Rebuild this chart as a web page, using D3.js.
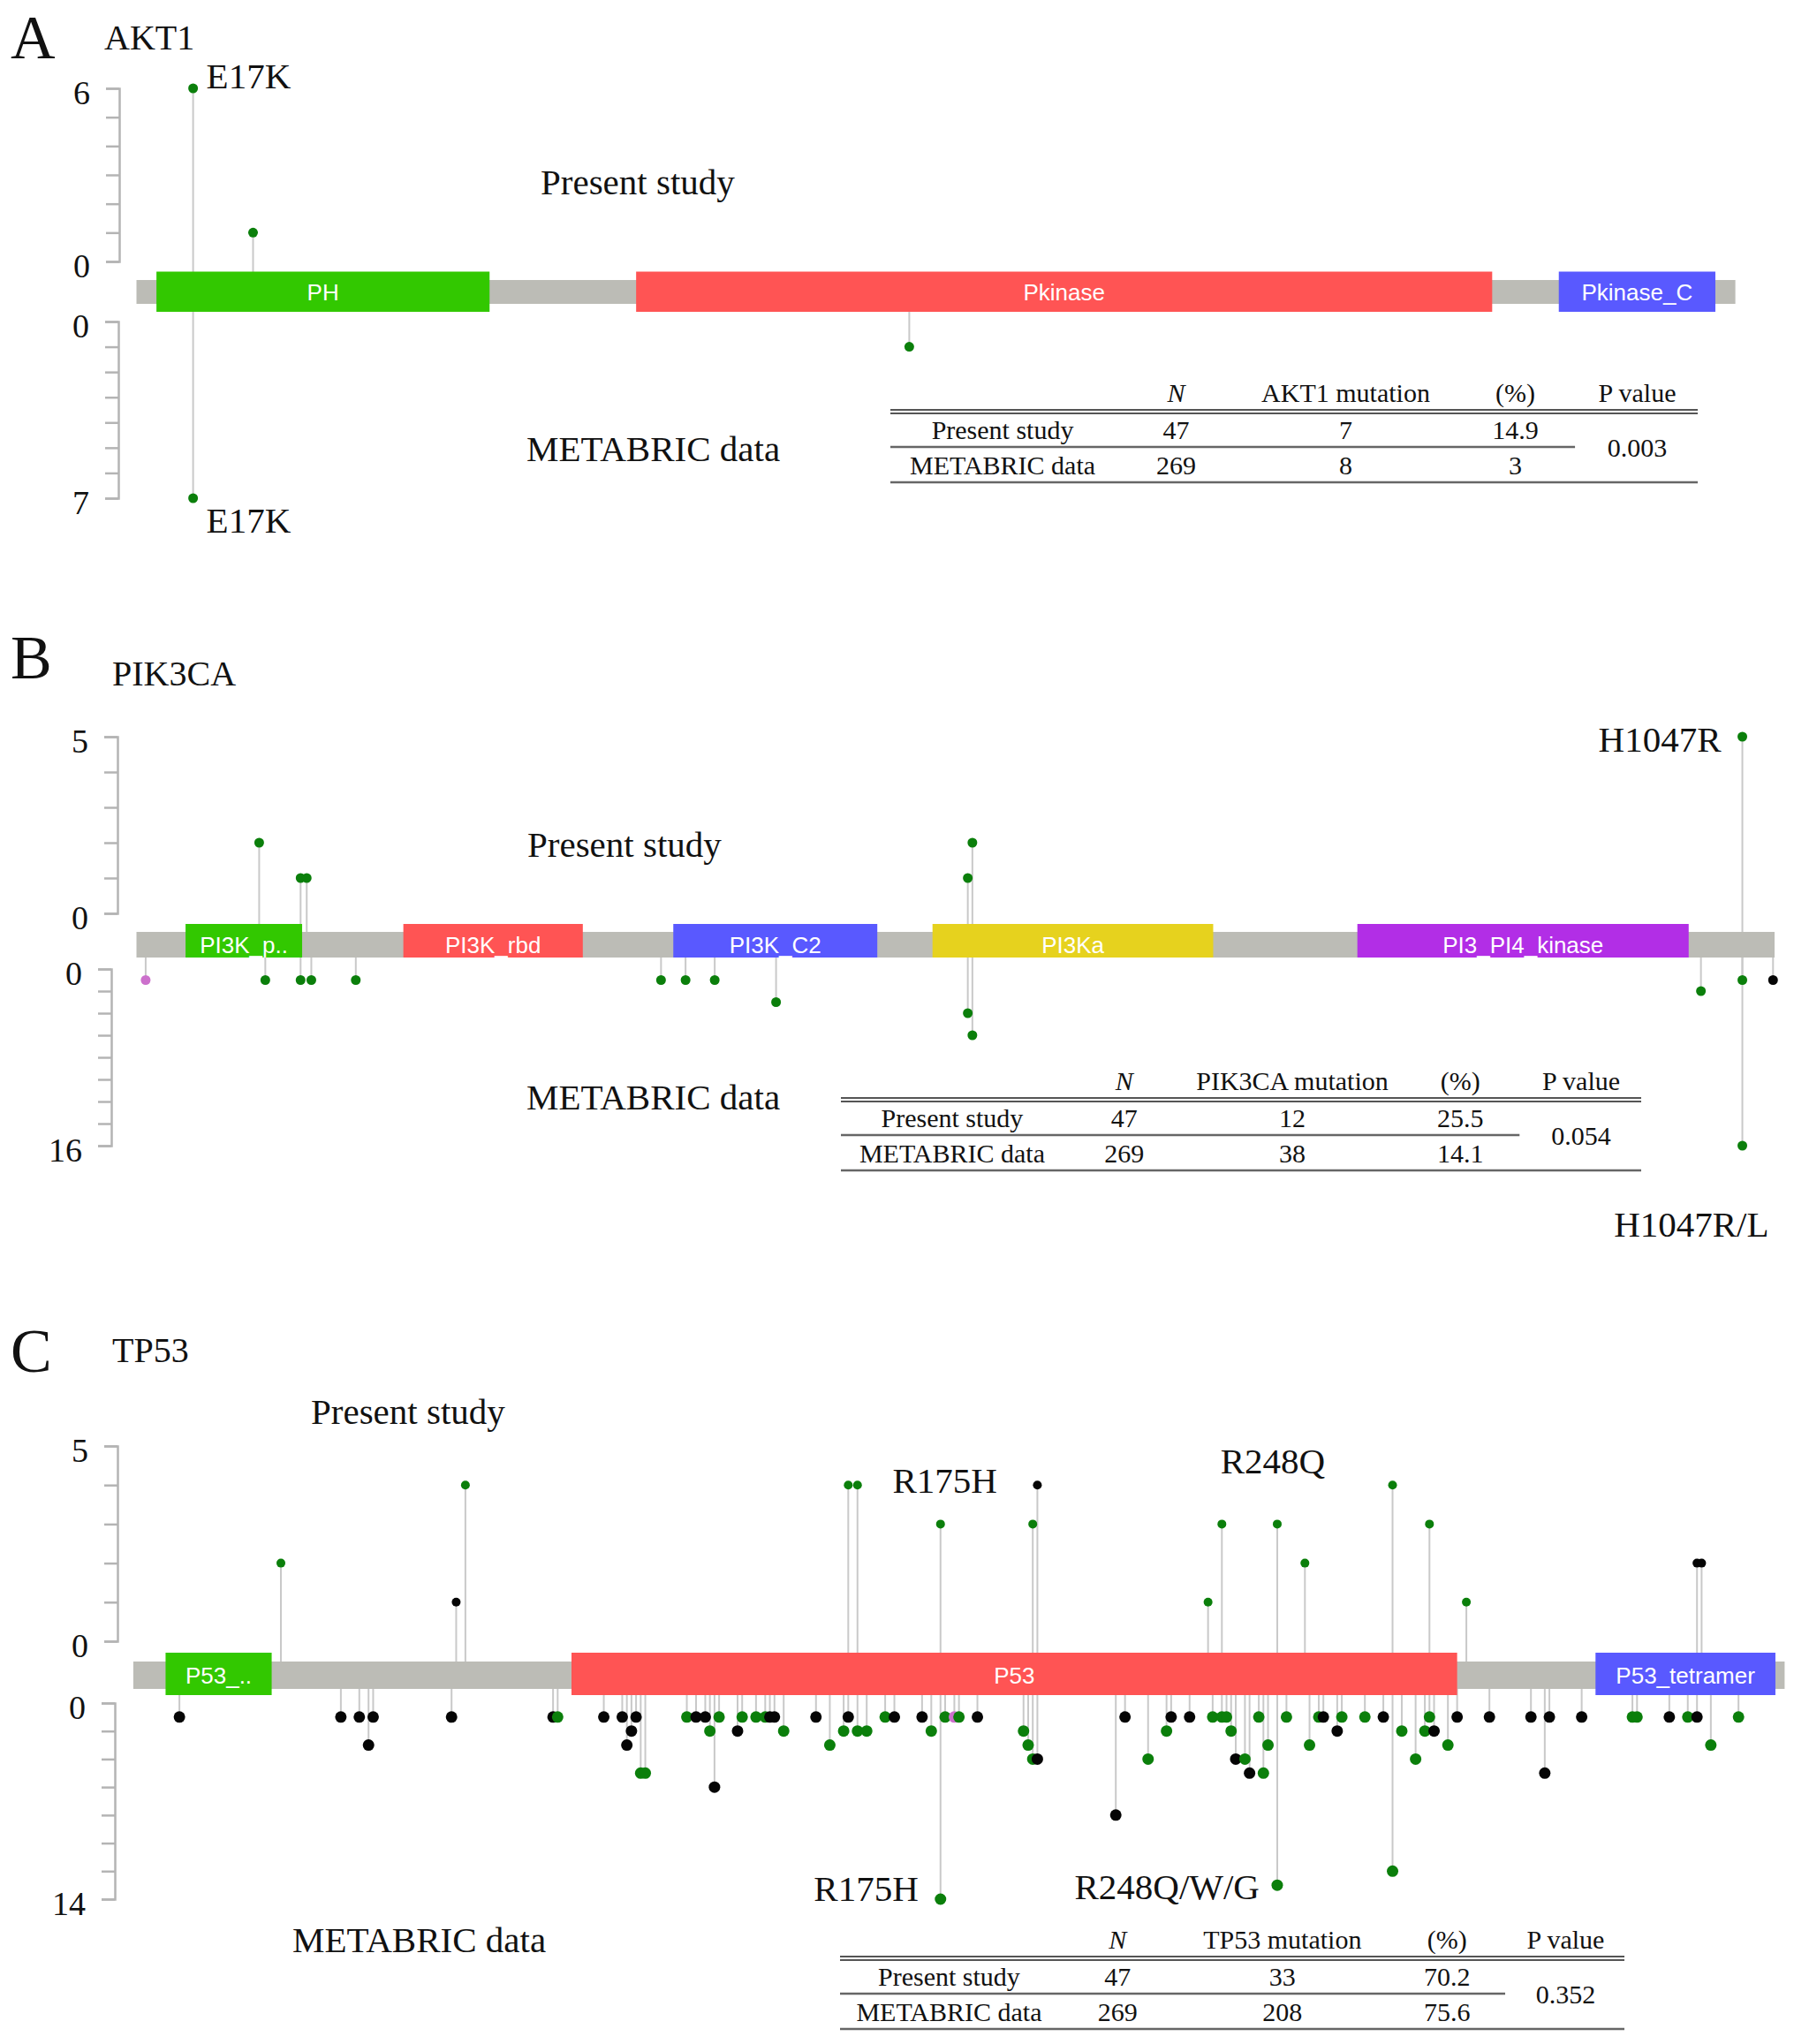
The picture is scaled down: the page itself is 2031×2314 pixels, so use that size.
<!DOCTYPE html>
<html>
<head>
<meta charset="utf-8">
<script src="https://cdnjs.cloudflare.com/ajax/libs/d3/7.8.5/d3.min.js"></script>
<style>
    body { margin: 0; background: #fff; }
    svg text { font-family: "Liberation Serif", "Times New Roman", serif; fill: #111; }
    .dom-label { font-family: "Liberation Sans", Arial, sans-serif; fill: #fff; font-size: 26px; }
    .axis path, .axis line { stroke: #b4b4b4; stroke-width: 2.5; }
    .axis text { font-size: 38px; }
</style>
</head>
<body>
<div id="chart"></div>
<script>
// ---- data -------------------------------------------------------------
// domains: [name shown, start aa, end aa, colour key]
const akt1Domains = [["PH", 6, 106, "green"], ["Pkinase", 150, 407, "red"], ["Pkinase_C", 427, 474, "blue"]];
const pik3caDomains = [["PI3K_p..", 32, 108, "green"], ["PI3K_rbd", 174, 291, "red"], ["PI3K_C2", 350, 483, "blue"],
    ["PI3Ka", 519, 702, "yellow"], ["PI3_PI4_kinase", 796, 1012, "purple"]];
const tp53Domains = [["P53_..", 7, 30, "green"], ["P53", 95, 287, "red"], ["P53_tetramer", 317, 356, "blue"]];

// mutations: [position aa, count, colour key]  (g green, b black, p pink)
const akt1Upper = [[17, 6, "g"], [35, 1, "g"]];
const akt1Lower = [[17, 7, "g"], [232, 1, "g"]];

const pik3caUpper = [[80, 2, "g"], [107, 1, "g"], [111, 1, "g"], [542, 1, "g"], [545, 2, "g"], [1047, 5, "g"]];
const pik3caLower = [[6, 1, "p"], [84, 1, "g"], [107, 1, "g"], [114, 1, "g"], [143, 1, "g"], [342, 1, "g"],
    [358, 1, "g"], [377, 1, "g"], [417, 3, "g"], [542, 4, "g"], [545, 6, "g"], [1020, 2, "g"],
    [1047, 16, "g"], [1047, 1, "g"], [1067, 1, "b"]];

const tp53Upper = [[32, 2, "g"], [70, 1, "b"], [72, 4, "g"], [155, 4, "g"], [157, 4, "g"], [175, 3, "g"],
    [195, 3, "g"], [196, 4, "b"], [233, 1, "g"], [236, 3, "g"], [248, 3, "g"], [254, 2, "g"],
    [273, 4, "g"], [281, 3, "g"], [289, 1, "g"], [339, 2, "b"], [340, 2, "b"]];
const tp53Lower = [[10, 1, "b"], [45, 1, "b"], [49, 1, "b"], [51, 3, "b"], [52, 1, "b"], [69, 1, "b"],
    [91, 1, "b"], [92, 1, "g"], [102, 1, "b"], [106, 1, "b"], [107, 3, "b"], [108, 2, "b"], [109, 1, "b"],
    [110, 5, "g"], [111, 5, "g"], [120, 1, "g"], [122, 1, "b"], [124, 1, "b"], [125, 2, "g"], [126, 6, "b"],
    [127, 1, "g"], [131, 2, "b"], [132, 1, "g"], [135, 1, "g"], [137, 1, "g"], [138, 1, "b"], [139, 1, "b"],
    [141, 2, "g"], [148, 1, "b"], [151, 3, "g"], [154, 2, "g"], [155, 1, "b"], [157, 2, "g"], [159, 2, "g"],
    [163, 1, "g"], [165, 1, "b"], [171, 1, "b"], [173, 2, "g"], [175, 14, "g"], [176, 1, "g"], [178, 1, "p"],
    [179, 1, "g"], [183, 1, "b"], [193, 2, "g"], [194, 3, "g"], [195, 4, "g"], [196, 4, "b"], [213, 8, "b"],
    [215, 1, "b"], [220, 4, "g"], [224, 2, "g"], [225, 1, "b"], [229, 1, "b"], [234, 1, "g"], [236, 1, "g"],
    [237, 1, "g"], [238, 2, "g"], [239, 4, "b"], [241, 4, "g"], [242, 5, "b"], [244, 1, "g"], [245, 5, "g"],
    [246, 3, "g"], [248, 13, "g"], [250, 1, "g"], [255, 3, "g"], [257, 1, "g"], [258, 1, "b"], [261, 2, "b"],
    [262, 1, "g"], [267, 1, "g"], [271, 1, "b"], [273, 12, "g"], [275, 2, "g"], [278, 4, "g"], [280, 2, "g"],
    [281, 1, "g"], [282, 2, "b"], [285, 3, "g"], [287, 1, "b"], [294, 1, "b"], [303, 1, "b"], [306, 5, "b"],
    [307, 1, "b"], [314, 1, "b"], [325, 1, "g"], [326, 1, "g"], [333, 1, "b"], [337, 1, "g"], [339, 1, "b"],
    [342, 3, "g"], [348, 1, "g"]];

// comparison tables
const tableHeader = ["", "N", "mutation", "(%)", "P value"];
const akt1Table = [["Present study", 47, 7, "14.9"], ["METABRIC data", 269, 8, "3"]];
const pik3caTable = [["Present study", 47, 12, "25.5"], ["METABRIC data", 269, 38, "14.1"]];
const tp53Table = [["Present study", 47, 33, "70.2"], ["METABRIC data", 269, 208, "75.6"]];
const pValues = ["0.003", "0.054", "0.352"];

// ---- styling ----------------------------------------------------------
const domainColor = { green: "#32c800", red: "#ff5454", blue: "#5959ff", yellow: "#e6d21e", purple: "#b22ee6" };
const dotColor = { g: "#0b7f0b", b: "#050505", p: "#cc70cc" };

const width = 2031, height = 2314;

// per panel layout (pixel geometry, not data)
const panels = [
    {
        letter: "A", gene: "AKT1", length: 480, xRange: [154.5, 1964.6],
        domains: akt1Domains, upper: akt1Upper, lower: akt1Lower,
        up: { max: 6, step: 1, range: [296, 100], axisX: 135 },
        low: { max: 7, step: 1, range: [364, 564], axisX: 134 },
        backbone: [317, 344], domainY: [307.5, 353], r: 5.5, rLow: 5.5,
        letterPos: [12, 66], genePos: [118, 56],
        present: [612, 220], metabric: [596, 522],
        table: { x: 1008, w: 914, top: 455, rows: akt1Table, p: pValues[0] },
        notes: [
            { text: "E17K", aa: 17, side: "up", v: 6, dx: 15, dy: 0, anchor: "start" },
            { text: "E17K", aa: 17, side: "low", v: 7, dx: 15, dy: 39, anchor: "start" }
        ]
    },
    {
        letter: "B", gene: "PIK3CA", length: 1068, xRange: [154.5, 2009],
        domains: pik3caDomains, upper: pik3caUpper, lower: pik3caLower,
        up: { max: 5, step: 1, range: [1034, 834], axisX: 133 },
        low: { max: 16, step: 2, range: [1097, 1297], axisX: 126 },
        backbone: [1055, 1084], domainY: [1046, 1084], r: 5.5, rLow: 5.5,
        letterPos: [12, 768], genePos: [127, 776],
        present: [597, 970], metabric: [596, 1256],
        table: { x: 952, w: 906, top: 1234, rows: pik3caTable, p: pValues[1] },
        notes: [
            { text: "H1047R", aa: 1047, side: "up", v: 5, dx: -24, dy: 17, anchor: "end" },
            { text: "H1047R/L", aa: 1047, side: "low", v: 16, dx: 30, dy: 103, anchor: "end" }
        ]
    },
    {
        letter: "C", gene: "TP53", length: 358, xRange: [150.9, 2020.4],
        domains: tp53Domains, upper: tp53Upper, lower: tp53Lower,
        up: { max: 5, step: 1, range: [1858, 1637], axisX: 133 },
        low: { max: 14, step: 2, range: [1928, 2150], axisX: 130 },
        backbone: [1881, 1912], domainY: [1871, 1919], r: 5, rLow: 6.5,
        letterPos: [12, 1553], genePos: [127, 1542],
        present: [352, 1612], metabric: [331, 2210],
        table: { x: 951, w: 888, top: 2206, rows: tp53Table, p: pValues[2] },
        notes: [
            { text: "R175H", aa: 175, side: "up", v: 3, dx: 5, dy: -35, anchor: "middle" },
            { text: "R248Q", aa: 248, side: "up", v: 3, dx: -5, dy: -57, anchor: "middle" },
            { text: "R175H", aa: 175, side: "low", v: 14, dx: -25, dy: 2, anchor: "end" },
            { text: "R248Q/W/G", aa: 248, side: "low", v: 13, dx: -20, dy: 16, anchor: "end" }
        ]
    }
];

// table column centres as fractions of table width
const colFrac = [0.139, 0.354, 0.564, 0.774, 0.925];

// ---- drawing ----------------------------------------------------------
const svg = d3.select("#chart")
    .append("svg")
    .attr("width", width)
    .attr("height", height)
    .attr("viewBox", [0, 0, width, height]);

svg.append("rect").attr("width", width).attr("height", height).attr("fill", "#fff");

panels.forEach((p, pi) => {
    const g = svg.append("g");

    const x = d3.scaleLinear().domain([0, p.length]).range(p.xRange);
    const yUp = d3.scaleLinear().domain([0, p.up.max]).range(p.up.range);
    const yLow = d3.scaleLinear().domain([0, p.low.max]).range(p.low.range);
    const bbMid = (p.backbone[0] + p.backbone[1]) / 2;

    // axes (bracket style, labels only at the ends)
    [[p.up, yUp], [p.low, yLow]].forEach(([a, y]) => {
        g.append("g")
            .attr("class", "axis")
            .attr("transform", `translate(${a.axisX},0)`)
            .call(d3.axisLeft(y)
                .tickValues(d3.range(0, a.max + 1, a.step))
                .tickSize(15)
                .tickSizeOuter(15)
                .tickPadding(18)
                .tickFormat(d => (d === 0 || d === a.max) ? d : ""))
            .call(s => s.selectAll("text").attr("dy", "0.45em"));
    });

    // stems
    const stems = g.append("g").attr("stroke", "#c9c9c9").attr("stroke-width", 2);
    stems.selectAll(".up").data(p.upper).enter().append("line")
        .attr("x1", d => x(d[0])).attr("x2", d => x(d[0]))
        .attr("y1", bbMid).attr("y2", d => yUp(d[1]));
    stems.selectAll(".low").data(p.lower).enter().append("line")
        .attr("x1", d => x(d[0])).attr("x2", d => x(d[0]))
        .attr("y1", bbMid).attr("y2", d => yLow(d[1]));

    // backbone
    g.append("rect")
        .attr("x", x(0)).attr("width", x(p.length) - x(0))
        .attr("y", p.backbone[0]).attr("height", p.backbone[1] - p.backbone[0])
        .attr("fill", "#bcbcb6");

    // domains
    const dom = g.append("g").selectAll("g").data(p.domains).enter().append("g");
    dom.append("rect")
        .attr("x", d => x(d[1])).attr("width", d => x(d[2]) - x(d[1]))
        .attr("y", p.domainY[0]).attr("height", p.domainY[1] - p.domainY[0])
        .attr("fill", d => domainColor[d[3]]);
    dom.append("text")
        .attr("class", "dom-label")
        .attr("x", d => (x(d[1]) + x(d[2])) / 2)
        .attr("y", bbMid)
        .attr("dy", "0.36em")
        .attr("text-anchor", "middle")
        .text(d => d[0]);

    // dots
    g.append("g").selectAll("circle").data(p.upper).enter().append("circle")
        .attr("cx", d => x(d[0])).attr("cy", d => yUp(d[1]))
        .attr("r", p.r).attr("fill", d => dotColor[d[2]]);
    g.append("g").selectAll("circle").data(p.lower).enter().append("circle")
        .attr("cx", d => x(d[0])).attr("cy", d => yLow(d[1]))
        .attr("r", p.rLow).attr("fill", d => dotColor[d[2]]);

    // titles and labels
    g.append("text").attr("x", p.letterPos[0]).attr("y", p.letterPos[1])
        .style("font-size", "70px").text(p.letter);
    g.append("text").attr("x", p.genePos[0]).attr("y", p.genePos[1])
        .style("font-size", "40px").text(p.gene);
    g.append("text").attr("x", p.present[0]).attr("y", p.present[1])
        .style("font-size", "41px").text("Present study");
    g.append("text").attr("x", p.metabric[0]).attr("y", p.metabric[1])
        .style("font-size", "41px").text("METABRIC data");

    g.append("g").selectAll("text").data(p.notes).enter().append("text")
        .attr("x", d => x(d.aa) + d.dx)
        .attr("y", d => (d.side === "up" ? yUp(d.v) : yLow(d.v)) + d.dy)
        .attr("text-anchor", d => d.anchor)
        .style("font-size", "41px")
        .text(d => d.text);

    // table
    const t = p.table;
    const tg = g.append("g").style("font-size", "30px");
    const cx = i => t.x + t.w * colFrac[i];
    const header = tableHeader.map((h, i) => i === 2 ? `${p.gene} ${h}` : h);
    tg.selectAll(".hdr").data(header).enter().append("text")
        .attr("x", (d, i) => cx(i)).attr("y", t.top)
        .attr("text-anchor", "middle")
        .style("font-style", (d, i) => i === 1 ? "italic" : "normal")
        .text(d => d);
    t.rows.forEach((row, ri) => {
        tg.selectAll(".r" + ri).data(row).enter().append("text")
            .attr("x", (d, i) => cx(i)).attr("y", t.top + 42 + ri * 40)
            .attr("text-anchor", "middle")
            .text(d => d);
    });
    tg.append("text").attr("x", cx(4)).attr("y", t.top + 62)
        .attr("text-anchor", "middle").text(t.p);

    const rules = [
        [t.top + 9, t.w, 2, "#555"], [t.top + 13, t.w, 2, "#555"],
        [t.top + 51, t.w * 0.848, 2.5, "#666"], [t.top + 91, t.w, 2.5, "#666"]
    ];
    tg.selectAll("line").data(rules).enter().append("line")
        .attr("x1", t.x).attr("x2", d => t.x + d[1])
        .attr("y1", d => d[0]).attr("y2", d => d[0])
        .attr("stroke", d => d[3]).attr("stroke-width", d => d[2]);
});
</script>
</body>
</html>
